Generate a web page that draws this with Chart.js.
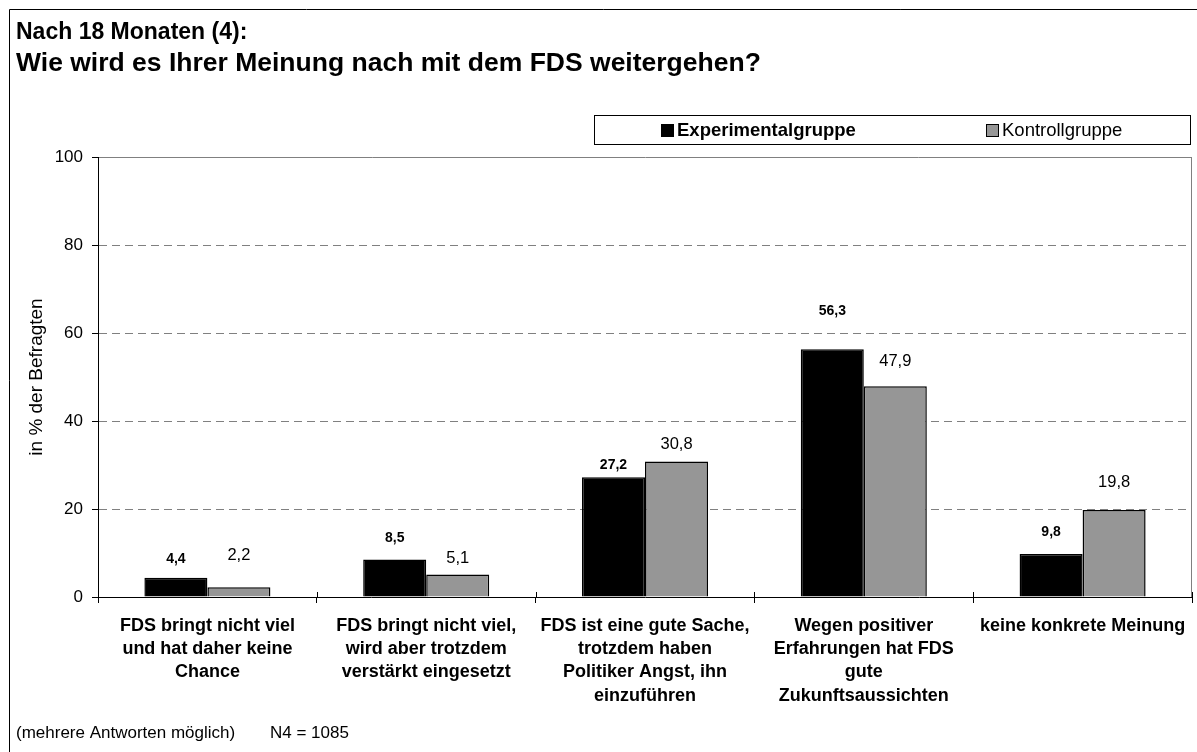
<!DOCTYPE html>
<html>
<head>
<meta charset="utf-8">
<script src="https://cdn.jsdelivr.net/npm/chart.js@4"></script>
<style>
  html, body { margin: 0; padding: 0; background: #fff; }
  #wrap { position: relative; width: 1197px; height: 752px; }
  canvas { display: block; }
</style>
</head>
<body>
<div id="wrap"><canvas id="c" width="1197" height="752"></canvas></div>
<script>
// ---- data ----
const titleLine1 = "Nach 18 Monaten (4):";
const titleLine2 = "Wie wird es Ihrer Meinung nach mit dem FDS weitergehen?";
const footnoteParts = ["(mehrere Antworten möglich)", "N4 = 1085"];
const yAxisTitle = "in % der Befragten";
const categories = [
  ["FDS bringt nicht viel", "und hat daher keine", "Chance"],
  ["FDS bringt nicht viel,", "wird aber trotzdem", "verstärkt eingesetzt"],
  ["FDS ist eine gute Sache,", "trotzdem haben", "Politiker Angst, ihn", "einzuführen"],
  ["Wegen positiver", "Erfahrungen hat FDS", "gute", "Zukunftsaussichten"],
  ["keine konkrete Meinung"]
];
const seriesNames = ["Experimentalgruppe", "Kontrollgruppe"];
const experimental = [4.4, 8.5, 27.2, 56.3, 9.8];
const kontroll = [2.2, 5.1, 30.8, 47.9, 19.8];
const yTicks = [0, 20, 40, 60, 80, 100];

// label offsets above the bar top (px), as in the reference
const labelOffsets = [
  [18, 21, 12, 38, 22],
  [32, 16, 17.5, 25, 27]
];

const FONT = "'Liberation Sans', Arial, sans-serif";
const labelFonts = ["bold 14px " + FONT, "16.5px " + FONT];

const decorPlugin = {
  id: 'decor',
  beforeDraw(chart) {
    const ctx = chart.ctx;
    ctx.save();
    ctx.fillStyle = '#fff';
    ctx.fillRect(0, 0, chart.width, chart.height);
    // outer frame (left and top)
    ctx.strokeStyle = '#000';
    ctx.lineWidth = 1;
    ctx.beginPath();
    ctx.moveTo(9.5, chart.height);
    ctx.lineTo(9.5, 9.5);
    ctx.lineTo(chart.width, 9.5);
    ctx.stroke();
    // titles
    ctx.fillStyle = '#000';
    ctx.textBaseline = 'alphabetic';
    ctx.textAlign = 'left';
    ctx.font = "bold 23px " + FONT;
    ctx.fillText(titleLine1, 16, 39);
    ctx.font = "bold 26.5px " + FONT;
    ctx.fillText(titleLine2, 16, 71);
    // footnote
    ctx.font = "17px " + FONT;
    ctx.textBaseline = 'middle';
    ctx.fillText(footnoteParts[0], 16, 733);
    ctx.fillText(footnoteParts[1], 270, 733);
    // legend
    const lx = 594.5, ly = 115.5, lw = 596, lh = 29;
    ctx.strokeStyle = '#000';
    ctx.strokeRect(lx, ly, lw, lh);
    const items = [
      {x: 661, font: "bold 18.5px " + FONT},
      {x: 986, font: "18.5px " + FONT}
    ];
    chart.data.datasets.forEach((ds, i) => {
      const it = items[i];
      ctx.fillStyle = ds.backgroundColor;
      ctx.fillRect(it.x, 124, 13, 13);
      ctx.strokeStyle = '#000';
      ctx.strokeRect(it.x + 0.5, 124.5, 12, 12);
      ctx.fillStyle = '#000';
      ctx.font = it.font;
      ctx.textBaseline = 'middle';
      ctx.fillText(ds.label, it.x + 16, 131);
    });
    ctx.restore();
  },
  afterDraw(chart) {
    const ctx = chart.ctx;
    const a = chart.chartArea;
    const xs = chart.scales.x;
    ctx.save();
    // right border of plot area
    ctx.strokeStyle = '#808080';
    ctx.lineWidth = 1;
    ctx.beginPath();
    ctx.moveTo(Math.round(a.right) - 0.5, a.top);
    ctx.lineTo(Math.round(a.right) - 0.5, a.bottom);
    ctx.stroke();
    // upper part of category tick marks (ticks cross the axis)
    ctx.strokeStyle = '#000';
    const n = chart.data.labels.length;
    ctx.beginPath();
    for (let i = 0; i <= n; i++) {
      const x = Math.round(xs.left + i * (xs.right - xs.left) / n) + 0.5;
      ctx.moveTo(x, a.bottom - 5);
      ctx.lineTo(x, a.bottom);
    }
    ctx.stroke();
    // value labels
    chart.data.datasets.forEach((ds, di) => {
      const meta = chart.getDatasetMeta(di);
      ctx.font = labelFonts[di];
      ctx.fillStyle = '#000';
      ctx.textAlign = 'center';
      ctx.textBaseline = 'middle';
      meta.data.forEach((bar, i) => {
        const v = ds.data[i];
        ctx.fillText(String(v).replace('.', ','), bar.x, bar.y - labelOffsets[di][i]);
      });
    });
    ctx.restore();
  }
};

new Chart(document.getElementById('c'), {
  type: 'bar',
  data: {
    labels: categories,
    datasets: [
      { label: seriesNames[0], data: experimental, backgroundColor: '#000000', borderColor: '#000000', borderWidth: 1.5 },
      { label: seriesNames[1], data: kontroll, backgroundColor: '#969696', borderColor: '#000000', borderWidth: 1.5 }
    ]
  },
  options: {
    responsive: false,
    animation: false,
    devicePixelRatio: 1,
    layout: { padding: { left: 0, right: 5, top: 157, bottom: 0 } },
    datasets: { bar: { categoryPercentage: 0.576, barPercentage: 1.0 } },
    plugins: { legend: { display: false }, tooltip: { enabled: false } },
    scales: {
      x: {
        offset: true,
        grid: { display: true, drawOnChartArea: false, drawTicks: true, tickLength: 6, color: '#000', offset: true },
        border: { display: true, color: '#000', width: 1 },
        ticks: {
          color: '#000', maxRotation: 0, minRotation: 0, autoSkip: false, padding: 11,
          font: { family: FONT, size: 18, weight: 'bold', lineHeight: 1.3 }
        },
        afterFit(scale) { scale.height = 155; }
      },
      y: {
        min: 0, max: 100,
        afterBuildTicks(scale) { scale.ticks = yTicks.map(v => ({ value: v })); },
        grid: {
          color: (c) => (c.tick && c.tick.value === 0) ? 'rgba(0,0,0,0)' : '#808080',
          lineWidth: 1, drawTicks: true, tickLength: 6, tickColor: '#000'
        },
        border: {
          display: true, color: '#000', width: 1,
          dash: (c) => (c.tick && c.tick.value > 0 && c.tick.value < 100) ? [8, 5] : []
        },
        ticks: { color: '#000', padding: 9, font: { family: FONT, size: 17 } },
        title: {
          display: true, text: yAxisTitle, color: '#000',
          font: { family: FONT, size: 19 }, padding: { top: 25, bottom: 0 }
        },
        afterFit(scale) { scale.width = 98; }
      }
    }
  },
  plugins: [decorPlugin]
});
</script>
</body>
</html>
